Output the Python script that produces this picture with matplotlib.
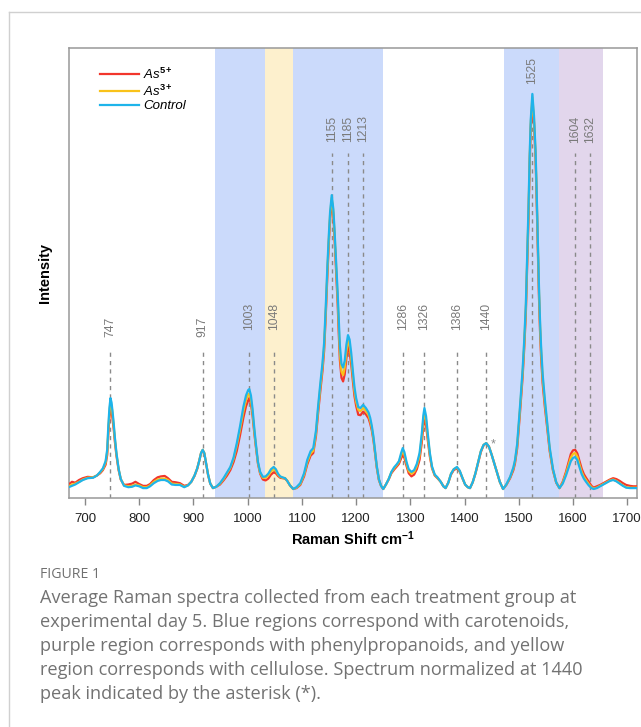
import matplotlib
matplotlib.use("Agg")
import matplotlib.pyplot as plt
from matplotlib.lines import Line2D

plt.rcParams['font.family'] = ['Liberation Sans', 'DejaVu Sans']
plt.rcParams['mathtext.fontset'] = 'custom'
plt.rcParams['mathtext.rm'] = 'Liberation Sans:bold'
plt.rcParams['mathtext.bf'] = 'Liberation Sans:bold'
plt.rcParams['mathtext.it'] = 'Liberation Sans:italic'

# ---------------- data ----------------
shift = [670, 676, 682, 689, 696, 705, 715, 722, 728, 733, 738, 741, 743, 745, 747, 749, 751, 753, 755, 758, 762, 766, 772,
         780, 787, 793, 800, 807, 814, 820, 827, 834, 840, 847, 853, 860, 867, 875, 883, 890, 896, 902, 907, 911, 914, 917,
         920, 923, 927, 931, 936, 942, 949, 956, 962, 968, 974, 980, 986, 992, 997, 1001, 1003, 1006, 1009, 1012, 1015,
         1019, 1023, 1028, 1033, 1038, 1043, 1048, 1052, 1056, 1060, 1064, 1069, 1073, 1078, 1084, 1090, 1097, 1104,
         1110, 1116, 1121, 1126, 1130, 1134, 1138, 1141, 1144, 1147, 1150, 1152, 1155, 1158, 1160, 1163, 1166, 1168,
         1170, 1173, 1176, 1179, 1182, 1185, 1188, 1191, 1194, 1197, 1200, 1204, 1208, 1213, 1218, 1223, 1226, 1229,
         1232, 1235, 1238, 1242, 1246, 1250, 1255, 1260, 1265, 1270, 1275, 1279, 1283, 1286, 1289, 1293, 1297, 1302,
         1307, 1312, 1317, 1321, 1324, 1326, 1329, 1332, 1336, 1340, 1345, 1350, 1356, 1361, 1365, 1370, 1375, 1380,
         1386, 1391, 1396, 1401, 1406, 1410, 1415, 1420, 1425, 1430, 1435, 1440, 1445, 1450, 1455, 1460, 1465, 1471,
         1477, 1484, 1490, 1493, 1497, 1502, 1507, 1510, 1513, 1516, 1518, 1520, 1522, 1525, 1528, 1531, 1533, 1535,
         1537, 1539, 1541, 1544, 1548, 1552, 1557, 1563, 1569, 1575, 1581, 1587, 1592, 1596, 1600, 1604, 1608, 1612,
         1616, 1620, 1624, 1629, 1634, 1638, 1644, 1650, 1656, 1662, 1668, 1674, 1680, 1686, 1692, 1698, 1705, 1711, 1718]

control = [.024, .027, .030, .035, .040, .044, .045, .050, .058, .066, .082, .108, .160, .200, .222, .212, .190, .165, .136, .100, .065, .042, .027,
           .024, .025, .028, .026, .022, .022, .026, .033, .038, .040, .040, .037, .030, .029, .029, .024, .028, .036, .050, .066, .084, .100, .107,
           .100, .080, .052, .032, .022, .025, .033, .045, .057, .069, .090, .122, .160, .202, .228, .240, .242, .228, .198, .158, .122,
           .080, .058, .047, .048, .054, .064, .069, .064, .054, .048, .046, .044, .038, .028, .020, .024, .033, .055,
           .085, .104, .111, .150, .205, .255, .300, .345, .425, .515, .592, .636, .673, .642, .600, .528, .455, .395,
           .340, .298, .290, .305, .340, .362, .352, .322, .282, .246, .222, .202, .200, .207, .200, .190, .178, .160,
           .136, .105, .072, .042, .027, .020, .030, .042, .058, .068, .075, .082, .100, .111, .102, .080, .064, .058,
           .062, .076, .100, .142, .184, .200, .182, .145, .100, .070, .052, .046, .036, .026, .022, .034, .054, .064,
           .069, .061, .045, .030, .024, .022, .035, .055, .080, .104, .118, .122, .114, .096, .076, .056, .036, .020,
           .030, .047, .068, .084, .120, .200, .284, .350, .430, .560, .650, .760, .840, .898, .850, .770, .680, .580,
           .480, .400, .340, .275, .220, .173, .112, .065, .035, .022, .032, .050, .068, .082, .089, .091, .084, .068,
           .053, .043, .036, .028, .022, .020, .022, .026, .030, .034, .038, .040, .037, .032, .027, .023, .022, .022, .022]

as3 = [.026, .030, .032, .036, .041, .045, .046, .050, .057, .064, .079, .103, .152, .190, .214, .205, .184, .160, .132, .098, .064, .042, .028,
       .026, .027, .030, .028, .024, .024, .028, .036, .041, .043, .043, .040, .032, .031, .030, .025, .028, .036, .050, .066, .084, .100, .107,
       .100, .080, .052, .032, .022, .025, .032, .043, .055, .067, .087, .117, .153, .192, .218, .230, .232, .219, .190, .152, .118,
       .078, .056, .045, .045, .050, .059, .064, .060, .052, .047, .045, .044, .038, .028, .020, .023, .031, .052,
       .080, .099, .105, .145, .198, .247, .292, .337, .415, .505, .584, .629, .667, .635, .592, .518, .443, .380,
       .323, .281, .273, .290, .325, .350, .340, .310, .272, .237, .214, .196, .193, .200, .194, .184, .172, .155,
       .132, .102, .070, .041, .027, .020, .030, .042, .057, .066, .073, .080, .095, .104, .096, .076, .060, .054,
       .058, .071, .094, .134, .174, .190, .173, .138, .096, .068, .051, .045, .036, .026, .022, .034, .054, .064,
       .068, .060, .045, .030, .024, .022, .035, .055, .080, .104, .118, .122, .114, .096, .076, .056, .036, .020,
       .030, .046, .066, .082, .116, .194, .277, .342, .421, .550, .640, .750, .831, .890, .843, .762, .672, .570,
       .470, .390, .330, .266, .212, .167, .108, .063, .035, .022, .034, .054, .074, .090, .098, .100, .092, .074,
       .058, .047, .040, .031, .024, .021, .023, .027, .031, .035, .039, .041, .038, .033, .028, .024, .023, .023, .023]

as5 = [.030, .036, .034, .040, .044, .047, .046, .050, .055, .062, .074, .096, .142, .178, .200, .192, .174, .152, .126, .094, .062, .041, .029,
       .030, .032, .036, .031, .027, .027, .031, .040, .046, .048, .049, .044, .036, .035, .033, .027, .029, .036, .049, .065, .084, .099, .106,
       .099, .079, .051, .032, .022, .025, .030, .040, .050, .062, .080, .105, .140, .178, .204, .217, .222, .210, .183, .147, .115,
       .076, .054, .041, .039, .043, .052, .057, .055, .049, .045, .044, .043, .038, .028, .020, .022, .029, .048,
       .075, .094, .100, .138, .190, .238, .283, .327, .405, .495, .574, .619, .660, .627, .583, .508, .430, .365,
       .307, .267, .259, .275, .310, .335, .325, .297, .260, .226, .205, .185, .184, .192, .186, .177, .165, .150,
       .128, .099, .068, .040, .027, .020, .030, .041, .055, .063, .070, .076, .088, .096, .089, .071, .055, .048,
       .052, .064, .085, .122, .160, .176, .161, .130, .092, .066, .050, .044, .036, .026, .022, .034, .052, .062,
       .066, .059, .044, .030, .024, .022, .035, .054, .078, .102, .117, .122, .114, .096, .076, .056, .036, .020,
       .029, .044, .062, .077, .110, .186, .268, .332, .410, .535, .625, .738, .820, .880, .834, .752, .660, .556,
       .455, .376, .316, .255, .203, .160, .104, .061, .034, .022, .036, .058, .080, .098, .106, .107, .099, .082,
       .065, .053, .045, .036, .027, .023, .026, .029, .033, .037, .041, .044, .042, .038, .033, .029, .027, .026, .026]

peak_labels = [747, 917, 1003, 1048, 1155, 1185, 1213, 1286, 1326, 1386, 1440, 1525, 1604, 1632]
dash_top = [0.333, 0.333, 0.333, 0.333, 0.767, 0.767, 0.767, 0.333, 0.333, 0.333, 0.333, 0.90, 0.767, 0.767]
label_y = [0.358, 0.358, 0.373, 0.373, 0.791, 0.791, 0.791, 0.373, 0.373, 0.373, 0.373, 0.92, 0.789, 0.789]

carotenoid_regions = [(940, 1032), (1084, 1250), (1473, 1575)]
cellulose_region = (1032, 1084)
phenyl_region = (1575, 1656)

series_names = ['As$^{\\mathit{5+}}$', 'As$^{\\mathit{3+}}$', 'Control']
series_colors = ['#f2362c', '#f9c21a', '#1eb4ea']

assert len(shift) == len(control) == len(as3) == len(as5)

# ---------------- figure ----------------
fig = plt.figure(figsize=(6.41, 7.27), dpi=100)
W, H = 641, 727
ax = fig.add_axes([69 / W, 1 - 498 / H, (637 - 69) / W, (498 - 48) / H])

for a, b in carotenoid_regions:
    ax.axvspan(a, b, color='#cbdafb', lw=0, zorder=0)
ax.axvspan(*cellulose_region, color='#fdf0cd', lw=0, zorder=0)
ax.axvspan(*phenyl_region, color='#e2d6ec', lw=0, zorder=0)

for p, t, ly in zip(peak_labels, dash_top, label_y):
    ax.plot([p, p], [0, t], ls=(0, (3, 3)), color='#8a8a8a', lw=1.0, zorder=1)
    ax.text(p, ly, str(p), rotation=90, ha='center', va='bottom', fontsize=8.8, color='#7a7a7a')

ax.text(1452, 0.118, '*', fontsize=9, color='#8a8a8a', ha='center', va='center')

for ys, name, c in zip([as5, as3, control], series_names, series_colors):
    ax.plot(shift, ys, color=c, lw=1.6, label=name, zorder=3)

ax.set_xlim(670.5, 1718)
ax.set_ylim(0, 1)
ax.set_yticks([])
ax.set_xticks([700, 800, 900, 1000, 1100, 1200, 1300, 1400, 1500, 1600, 1700])
ax.tick_params(axis='x', direction='out', length=5, width=1, color='#888888', labelsize=9.5, labelcolor='#222222', pad=6)
for s in ax.spines.values():
    s.set_color('#999999')
    s.set_linewidth(1.1)

ax.set_xlabel('Raman Shift cm$^{-1}$', fontsize=10.5, fontweight='bold', labelpad=3)
ax.set_ylabel('Intensity', fontsize=10.5, fontweight='bold', labelpad=12)

leg = ax.legend(loc='upper left', bbox_to_anchor=(93 / W, 1 - 60 / H), bbox_transform=fig.transFigure,
                frameon=False, borderpad=0, handlelength=3.0, handletextpad=0.3, labelspacing=0.12,
                prop={'family': 'Liberation Sans', 'style': 'italic', 'size': 9.5})

# card border
fig.add_artist(Line2D([9 / W, 9 / W], [0, 1 - 12 / H], color='#d0d0d0', lw=1, transform=fig.transFigure))
fig.add_artist(Line2D([9 / W, 1], [1 - 12 / H, 1 - 12 / H], color='#d0d0d0', lw=1, transform=fig.transFigure))

# caption
cap_font = ['Open Sans', 'DejaVu Sans']
fig.text(40 / W, 1 - 574 / H, 'FIGURE 1', fontsize=10.2, color='#707070', family=cap_font, va='center', ha='left')
lines = ['Average Raman spectra collected from each treatment group at',
         'experimental day 5. Blue regions correspond with carotenoids,',
         'purple region corresponds with phenylpropanoids, and yellow',
         'region corresponds with cellulose. Spectrum normalized at 1440',
         'peak indicated by the asterisk (*).']
for i, ln in enumerate(lines):
    fig.text(40 / W, 1 - (598 + 23.9 * i) / H, ln, fontsize=13.1, color='#727272', family=cap_font,
             va='center', ha='left')

fig.savefig('out.png', dpi=100)
